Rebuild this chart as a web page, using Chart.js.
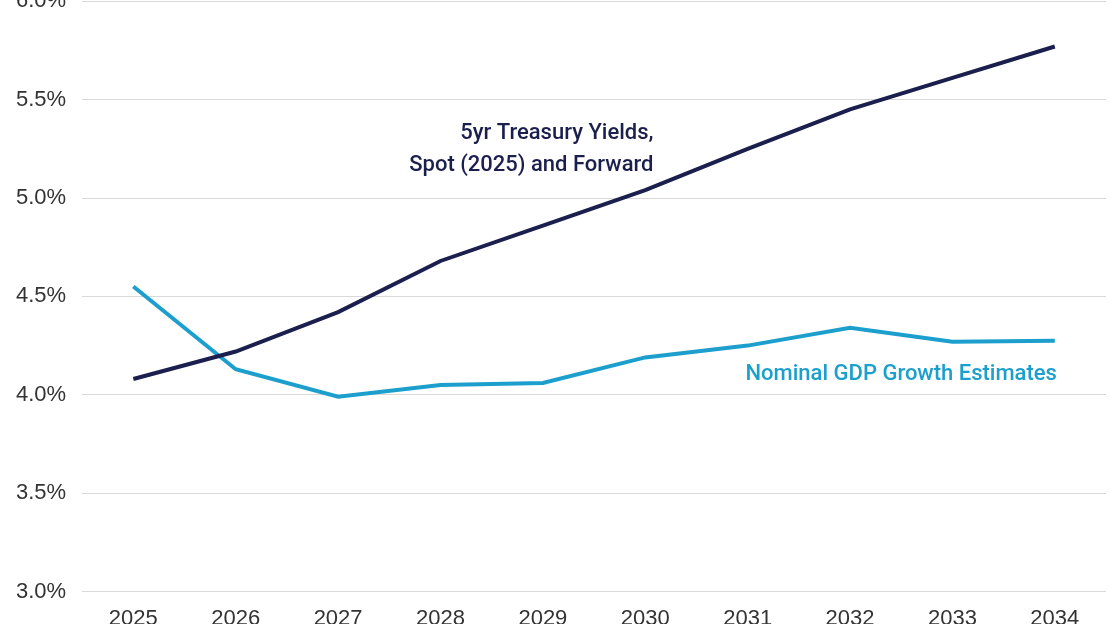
<!DOCTYPE html>
<html>
<head>
<meta charset="utf-8">
<script src="https://cdn.jsdelivr.net/npm/chart.js@4/dist/chart.umd.min.js"></script>
<style>
  html, body { margin:0; padding:0; background:#fff; overflow:hidden; }
  #wrap { position:absolute; left:0; top:-28px; width:1110px; height:666px; }
</style>
</head>
<body>
<div id="wrap"><canvas id="c"></canvas></div>
<script>
// ---------- data ----------
const years = ['2025','2026','2027','2028','2029','2030','2031','2032','2033','2034'];
const treasury = [4.08, 4.22, 4.42, 4.68, 4.86, 5.04, 5.25, 5.45, 5.61, 5.77];
const gdp = [4.55, 4.13, 3.99, 4.05, 4.06, 4.19, 4.25, 4.34, 4.27, 4.275];

const NAVY = '#1b1f4e';
const TEAL = '#1c9fcc';
const LABEL_FONT = '500 22px "Liberation Sans Narrow", "Roboto", sans-serif';

// text labels placed in data coordinates
const notes = [
  {lines:['5yr Treasury Yields,', 'Spot (2025) and Forward'], x:5.08, y:5.33, color:NAVY},
  {lines:['Nominal GDP Growth Estimates'], x:9.02, y:4.105, color:TEAL}
];

const notePlugin = {
  id:'notes',
  afterDatasetsDraw(chart){
    const {ctx, scales:{x, y}} = chart;
    ctx.save();
    ctx.font = LABEL_FONT;
    ctx.textAlign = 'right';
    ctx.textBaseline = 'middle';
    notes.forEach(n=>{
      const px = x.getPixelForValue(n.x);
      const py = y.getPixelForValue(n.y);
      ctx.fillStyle = n.color;
      n.lines.forEach((l,i)=> ctx.fillText(l, px, py + i*32));
    });
    ctx.restore();
  }
};

new Chart(document.getElementById('c'), {
  type:'line',
  data:{
    labels: years,
    datasets:[
      {data:treasury, borderColor:NAVY, borderWidth:4, pointRadius:0, tension:0},
      {data:gdp, borderColor:TEAL, borderWidth:4, pointRadius:0, tension:0}
    ]
  },
  plugins:[notePlugin],
  options:{
    responsive:true,
    maintainAspectRatio:false,
    animation:false,
    layout:{ padding:{top:14, right:4, left:0, bottom:0} },
    plugins:{ legend:{display:false}, tooltip:{enabled:false} },
    scales:{
      x:{
        offset:true,
        grid:{display:false},
        border:{display:false},
        ticks:{ color:'#333', font:{family:'Liberation Sans, Arial', size:22}, padding:6 }
      },
      y:{
        min:3.0, max:6.0,
        ticks:{ stepSize:0.5, color:'#333', padding:16,
          font:{family:'Liberation Sans, Arial', size:22},
          callback:v=> v.toFixed(1)+'%' },
        grid:{ color:'#d9d9d9', lineWidth:1, drawTicks:false },
        border:{display:false}
      }
    }
  }
});
</script>
</body>
</html>
